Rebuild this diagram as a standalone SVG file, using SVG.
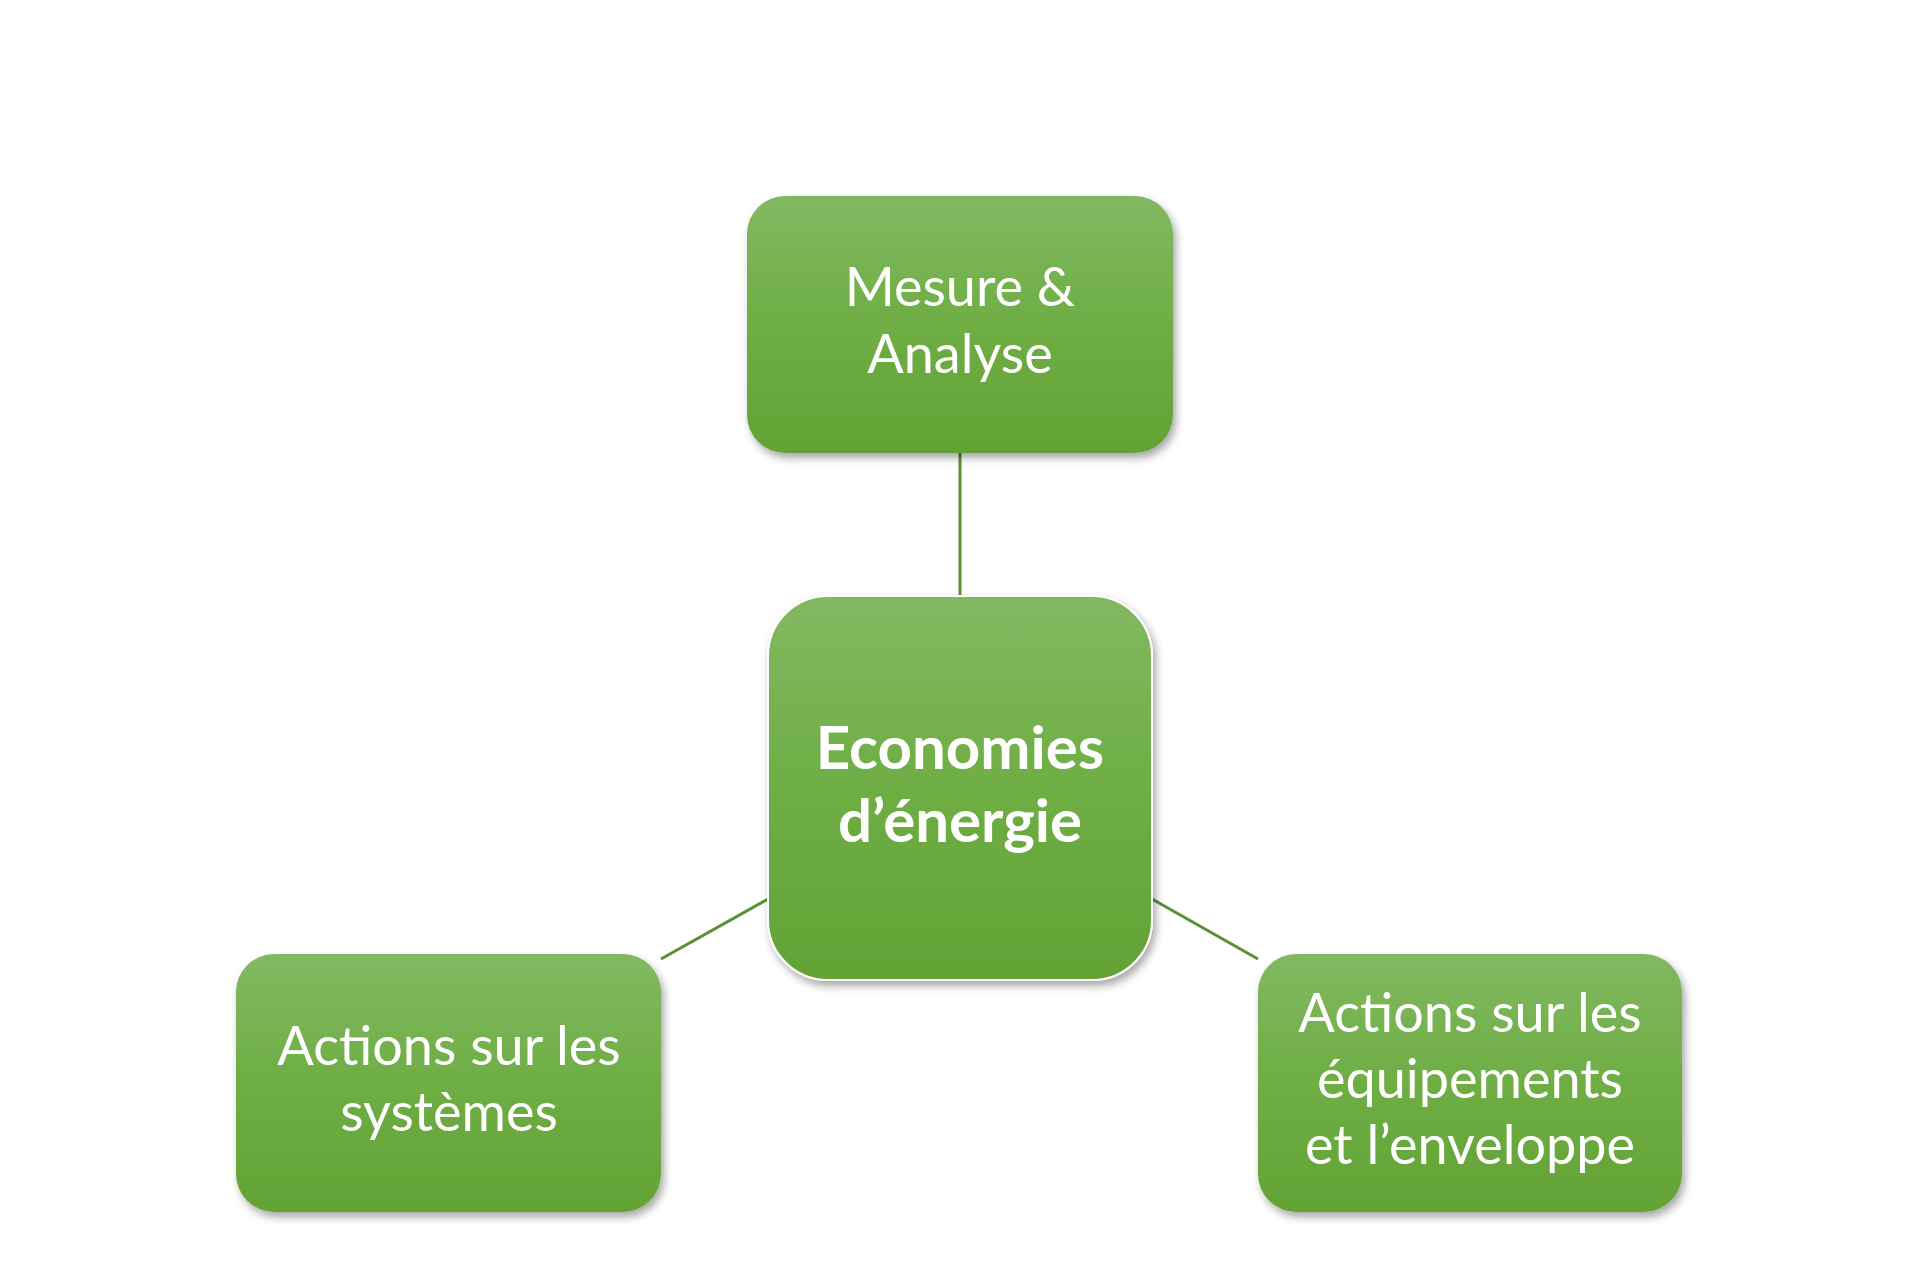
<svg xmlns="http://www.w3.org/2000/svg" width="1920" height="1279" viewBox="0 0 1920 1279">
<defs>
<linearGradient id="g" x1="0" y1="0" x2="0" y2="1"><stop offset="0" stop-color="#82b862"/><stop offset="0.5" stop-color="#6eae44"/><stop offset="1" stop-color="#63a235"/></linearGradient>
<filter id="sh" x="-10%" y="-10%" width="125%" height="130%"><feDropShadow dx="3" dy="5" stdDeviation="4" flood-color="#000" flood-opacity="0.35"/></filter>
</defs>
<style>
.box{fill:url(#g);filter:url(#sh)}
.t{font-family:Lato,"Open Sans",sans-serif;fill:#fff;font-size:54px;text-anchor:middle}
.b{font-weight:bold;font-size:60px}
.c{stroke:#5b8f33;stroke-width:3;fill:none}
</style>
<rect width="1920" height="1279" fill="#fff"/>
<g id="connectors">
<line class="c" x1="960" y1="453" x2="960" y2="596"/>
<line class="c" x1="661" y1="959" x2="768" y2="899"/>
<line class="c" x1="1152" y1="899" x2="1258" y2="959"/>
</g>
<g id="top"><rect class="box" x="747" y="196" width="426" height="257" rx="38"/>
<text class="t" x="960" y="306">Mesure &amp;</text><text class="t" x="960" y="373">Analyse</text></g>
<g id="center"><rect class="box" x="768" y="596" width="384" height="384" rx="60" stroke="#fff" stroke-width="2"/>
<text class="t b" x="960" y="769">Economies</text><text class="t b" x="960" y="842">d’énergie</text></g>
<g id="left"><rect class="box" x="236" y="954" width="425" height="258" rx="38"/>
<text class="t" x="449" y="1065">Actions sur les</text><text class="t" x="449" y="1131">systèmes</text></g>
<g id="right"><rect class="box" x="1258" y="954" width="424" height="258" rx="38"/>
<text class="t" x="1470" y="1032">Actions sur les</text><text class="t" x="1470" y="1098">équipements</text><text class="t" x="1470" y="1164">et l’enveloppe</text></g>
</svg>
